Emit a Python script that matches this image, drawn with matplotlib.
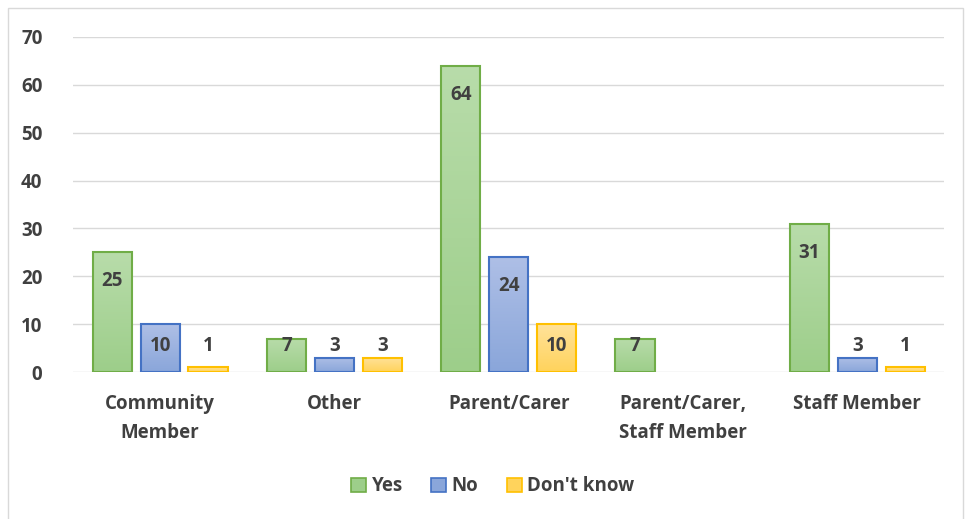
import numpy as np
import matplotlib.pyplot as plt
from matplotlib.patches import Rectangle, Patch

plt.rcParams['font.family'] = ['Open Sans', 'DejaVu Sans']
plt.rcParams['font.weight'] = 'bold'

categories = ['Community\nMember', 'Other', 'Parent/Carer', 'Parent/Carer,\nStaff Member', 'Staff Member']
series = ['Yes', 'No', "Don't know"]
yes = [25, 7, 64, 7, 31]
no = [10, 3, 24, 0, 3]
dont_know = [1, 3, 10, 0, 1]

values = [yes, no, dont_know]
edges = ['#70ad47', '#4472c4', '#ffc000']
top_cols = ['#b8dcaa', '#aebfe6', '#ffe29a']
bot_cols = ['#9dce8a', '#8aa6da', '#ffd35c']
text_col = '#404040'
fs = 13.5

fig = plt.figure(figsize=(9.66, 5.19), dpi=100)
fig.patches.append(Rectangle((8 / 966, -0.01), 955 / 966, 1 - 8 / 519 + 0.01,
                             transform=fig.transFigure, fill=False,
                             edgecolor='#d9d9d9', lw=1))
ax = fig.add_axes([0.0756, 0.283, 0.902, 0.646])

x = np.arange(len(categories))
w = 0.225
step = 0.275


def grad(c1, c2):
    a = np.array(plt.matplotlib.colors.to_rgb(c1))
    b = np.array(plt.matplotlib.colors.to_rgb(c2))
    t = np.linspace(0, 1, 64)[:, None]
    return (a * (1 - t) + b * t)[:, None, :]


for i, vals in enumerate(values):
    pos = x + (i - 1) * step
    for p, v in zip(pos, vals):
        if v == 0:
            continue
        b = ax.bar(p, v, w, color='none', edgecolor=edges[i], lw=1.5, zorder=3)[0]
        img = ax.imshow(grad(top_cols[i], bot_cols[i]), aspect='auto',
                        extent=[b.get_x(), b.get_x() + w, 0, v], zorder=2)
        img.set_clip_path(b)
        ax.text(p, max(v - 6.05, 5.43), str(v), ha='center', va='center',
                fontsize=fs, color=text_col, fontweight='bold', zorder=4)

ax.set_xlim(-0.5, len(categories) - 0.5)
ax.set_ylim(0, 70)
ax.set_yticks(range(0, 71, 10))
ax.set_xticks(x)
ax.set_xticklabels(categories, linespacing=1.6, va='top')
ax.tick_params(length=0, labelsize=fs, colors=text_col)
ax.tick_params(axis='x', pad=16)
ax.tick_params(axis='y', pad=22)
for lab in ax.get_xticklabels() + ax.get_yticklabels():
    lab.set_fontweight('bold')
for s in ax.spines.values():
    s.set_visible(False)
ax.grid(axis='y', color='#d9d9d9', lw=1, zorder=0)
ax.set_axisbelow(True)

handles = [Patch(facecolor=bot_cols[i], edgecolor=edges[i], lw=1.2) for i in range(3)]
leg = fig.legend(handles, series, loc='center', bbox_to_anchor=(0.51, 0.063), ncol=3,
                 frameon=False, fontsize=fs, handlelength=0.8, handleheight=0.8,
                 handletextpad=0.3, columnspacing=1.5, labelcolor=text_col)
for t in leg.get_texts():
    t.set_fontweight('bold')

fig.savefig('out.png', dpi=100)
